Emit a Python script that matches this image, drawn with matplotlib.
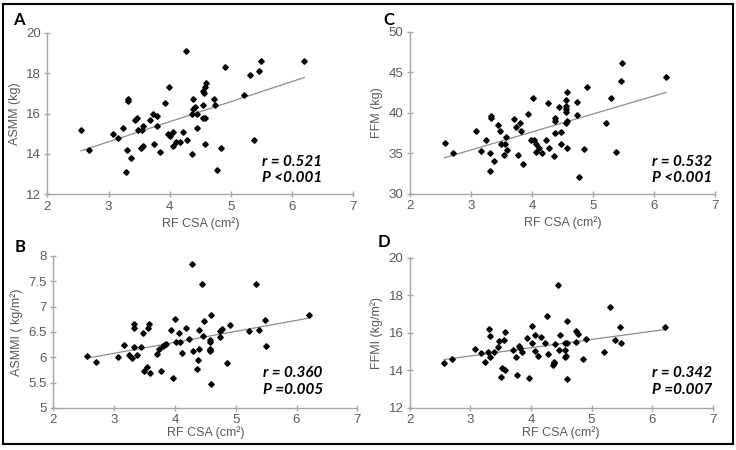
import numpy as np
import matplotlib.pyplot as plt
from matplotlib.patches import Rectangle

# panel A: RF CSA vs ASMM
a_x = [2.55, 2.68, 3.07, 3.16, 3.24, 3.30, 3.29, 3.32, 3.32, 3.37, 3.43, 3.46, 3.48, 3.54, 3.53,
       3.56, 3.57, 3.68, 3.73, 3.75, 3.79, 3.80, 3.84, 3.92, 3.97, 3.99, 4.01, 4.05, 4.06, 4.11,
       4.17, 4.22, 4.27, 4.28, 4.36, 4.37, 4.38, 4.38, 4.42, 4.45, 4.45, 4.55, 4.55, 4.56, 4.57,
       4.55, 4.57, 4.57, 4.59, 4.73, 4.74, 4.77, 4.84, 4.90, 5.21, 5.31, 5.38, 5.46, 5.49, 6.20]
a_y = [15.2, 14.2, 15.0, 14.8, 15.3, 14.2, 13.1, 16.7, 16.6, 13.8, 15.7, 15.8, 15.2, 15.2, 14.3,
       15.4, 14.4, 15.7, 16.0, 14.5, 15.9, 15.4, 14.1, 16.5, 15.0, 17.3, 14.9, 14.4, 15.1, 14.6,
       14.6, 15.1, 19.1, 14.7, 14.0, 16.0, 16.7, 16.2, 16.3, 16.0, 15.3, 16.4, 17.1, 17.0, 17.3,
       15.8, 15.8, 14.5, 17.5, 16.7, 16.4, 13.2, 14.3, 18.3, 16.9, 17.9, 14.7, 18.1, 18.6, 18.6]

# panel C: RF CSA vs FFM
c_x = [2.57, 2.71, 3.08, 3.17, 3.25, 3.32, 3.31, 3.33, 3.33, 3.38, 3.45, 3.48, 3.50, 3.57, 3.56,
       3.54, 3.59, 3.70, 3.74, 3.80, 3.82, 3.78, 3.85, 3.94, 3.98, 4.01, 4.03, 4.07, 4.06, 4.12,
       4.17, 4.23, 4.26, 4.28, 4.36, 4.37, 4.38, 4.38, 4.44, 4.47, 4.47, 4.55, 4.55, 4.56, 4.56,
       4.55, 4.57, 4.58, 4.57, 4.73, 4.74, 4.77, 4.85, 4.90, 5.21, 5.30, 5.38, 5.46, 5.47, 6.19]
c_y = [36.3, 35.0, 37.7, 35.3, 36.6, 35.0, 32.8, 39.6, 39.4, 34.1, 38.5, 37.8, 36.2, 37.0, 36.1,
       34.8, 35.4, 39.2, 38.2, 38.8, 37.7, 34.8, 33.7, 39.8, 36.6, 41.8, 36.6, 36.1, 35.2, 35.6,
       35.0, 36.7, 41.2, 35.7, 34.7, 37.5, 39.4, 39.0, 40.7, 37.6, 36.2, 40.9, 40.5, 40.1, 41.6,
       38.7, 39.0, 42.6, 35.7, 41.3, 39.7, 32.1, 35.5, 43.2, 38.8, 41.8, 35.2, 43.9, 46.2, 44.4]

# panel B: RF CSA vs ASMMI
b_x = [2.56, 2.70, 3.07, 3.17, 3.24, 3.30, 3.32, 3.32, 3.33, 3.38, 3.45, 3.48, 3.49, 3.54, 3.55,
       3.57, 3.59, 3.70, 3.74, 3.77, 3.80, 3.82, 3.85, 3.93, 3.97, 4.00, 4.02, 4.07, 4.08, 4.12,
       4.18, 4.23, 4.28, 4.29, 4.37, 4.38, 4.39, 4.39, 4.45, 4.47, 4.48, 4.57, 4.57, 4.58, 4.58,
       4.58, 4.59, 4.59, 4.74, 4.74, 4.78, 4.86, 4.91, 5.22, 5.33, 5.39, 5.48, 5.50, 6.21]
b_y = [6.02, 5.91, 6.01, 6.24, 6.05, 5.99, 6.57, 6.66, 6.21, 6.05, 6.21, 6.49, 5.73, 5.81, 6.58,
       6.66, 5.70, 6.06, 6.17, 5.74, 6.22, 6.24, 6.26, 6.53, 5.59, 6.76, 6.30, 6.49, 6.30, 6.09,
       6.58, 6.36, 7.85, 6.12, 5.76, 5.95, 6.53, 6.17, 7.44, 6.42, 6.72, 6.17, 6.14, 6.13, 6.34,
       6.30, 6.84, 5.47, 6.52, 6.41, 6.55, 5.88, 6.64, 6.52, 7.45, 6.53, 6.73, 6.22, 6.84]

# panel D: RF CSA vs FFMI
d_x = [2.57, 2.70, 3.08, 3.17, 3.24, 3.30, 3.31, 3.33, 3.33, 3.39, 3.45, 3.48, 3.50, 3.53, 3.56,
       3.57, 3.58, 3.70, 3.75, 3.77, 3.80, 3.82, 3.85, 3.93, 3.97, 4.01, 4.02, 4.06, 4.07, 4.12,
       4.17, 4.23, 4.27, 4.29, 4.37, 4.38, 4.38, 4.40, 4.44, 4.48, 4.47, 4.56, 4.57, 4.56, 4.58,
       4.60, 4.59, 4.59, 4.74, 4.75, 4.77, 4.86, 4.91, 5.21, 5.31, 5.39, 5.47, 5.49, 6.21]
d_y = [14.36, 14.58, 15.11, 14.90, 14.45, 14.97, 16.21, 15.85, 14.68, 14.97, 15.24, 15.54, 13.62, 14.12, 15.63,
       16.04, 14.03, 15.08, 14.70, 13.74, 15.27, 15.16, 14.97, 15.73, 13.60, 16.36, 15.43, 15.86, 15.02, 14.76,
       15.77, 15.47, 16.91, 14.84, 14.28, 14.44, 14.36, 15.40, 18.54, 15.86, 15.06, 15.45, 14.68, 15.06, 14.74,
       16.64, 13.51, 15.45, 16.09, 15.48, 15.93, 14.58, 15.66, 14.97, 17.38, 15.60, 16.33, 15.45, 16.32]

panels = [
    # letter, x, y, ylabel, ylim, yticks, ytick labels, rect (px), letter pos, r text, p text,
    # text pos, xlabel pad
    ("A", a_x, a_y, "ASMM (kg)", (12, 20), [12, 14, 16, 18, 20], ["12", "14", "16", "18", "20"],
     (47.3, 32.7, 353.3, 194.3), (13, 20), "r = 0.521", "P <0.001", (262, 162, 178), 3),
    ("C", c_x, c_y, "FFM (kg)", (30, 50), [30, 35, 40, 45, 50], ["30", "35", "40", "45", "50"],
     (409.7, 32.0, 715.3, 193.7), (383, 20), "r = 0.532", "P <0.001", (652, 162, 178), 3),
    ("B", b_x, b_y, "ASMMI ( kg/m²)", (5, 8), [5, 5.5, 6, 6.5, 7, 7.5, 8],
     ["5", "5.5", "6", "6.5", "7", "7.5", "8"],
     (53.3, 256.0, 357.3, 408.0), (15, 247), "r = 0.360", "P =0.005", (263, 373, 390), 0),
    ("D", d_x, d_y, "FFMI (kg/m²)", (12, 20), [12, 14, 16, 18, 20], ["12", "14", "16", "18", "20"],
     (409.7, 257.7, 712.7, 407.7), (378, 242), "r = 0.342", "P =0.007", (652, 373, 390), 0),
]

W, H = 736, 450
fig = plt.figure(figsize=(W / 100, H / 100), dpi=100)
plt.rcParams['font.family'] = ['Liberation Sans', 'DejaVu Sans']

grey = "#a6a6a6"
txt = "#595959"

for letter, xs, ys, ylab, ylim, yt, ytl, rect, lpos, rtxt, ptxt, tpos, xpad in panels:
    x0, y0, x1, y1 = rect
    ax = fig.add_axes([x0 / W, 1 - y1 / H, (x1 - x0) / W, (y1 - y0) / H])
    xs = np.array(xs)
    ys = np.array(ys)
    ax.plot(xs, ys, linestyle="none", marker="D", ms=2.8, color="black", zorder=3)
    m, b = np.polyfit(xs, ys, 1)
    lx = np.array([xs.min(), xs.max()])
    ax.plot(lx, m * lx + b, color="#8c8c8c", lw=0.9, zorder=2)

    ax.set_xlim(2, 7)
    ax.set_ylim(*ylim)
    ax.set_xticks([2, 3, 4, 5, 6, 7])
    ax.set_yticks(yt)
    ax.set_yticklabels(ytl)
    for s in ["top", "right"]:
        ax.spines[s].set_visible(False)
    for s in ["left", "bottom"]:
        ax.spines[s].set_color(grey)
        ax.spines[s].set_linewidth(1.0)
    ax.tick_params(direction="inout", length=5, width=1.0, color=grey,
                   labelsize=9.5, labelcolor=txt, pad=2)
    ax.set_xlabel("RF CSA (cm²)", fontsize=9, color=txt, labelpad=xpad)
    ax.set_ylabel(ylab, fontsize=9, color=txt, labelpad=4)
    ax.patch.set_alpha(0)

    fig.text(lpos[0] / W, 1 - lpos[1] / H, letter, fontsize=12, fontweight="bold",
             family=["Lato", "DejaVu Sans"], color="black", va="center", ha="left")
    fig.text(tpos[0] / W, 1 - tpos[1] / H, rtxt, fontsize=11, fontweight="bold",
             fontstyle="italic", family=["Lato", "DejaVu Sans"], color="black",
             va="center", ha="left")
    fig.text(tpos[0] / W, 1 - tpos[2] / H, ptxt, fontsize=11, fontweight="bold",
             fontstyle="italic", family=["Lato", "DejaVu Sans"], color="black",
             va="center", ha="left")

fig.patches.append(Rectangle((3 / W, 1 - 444 / H), 730 / W, 440 / H, transform=fig.transFigure,
                             fill=False, edgecolor="black", lw=1.5))

fig.savefig("out.png", dpi=100)
